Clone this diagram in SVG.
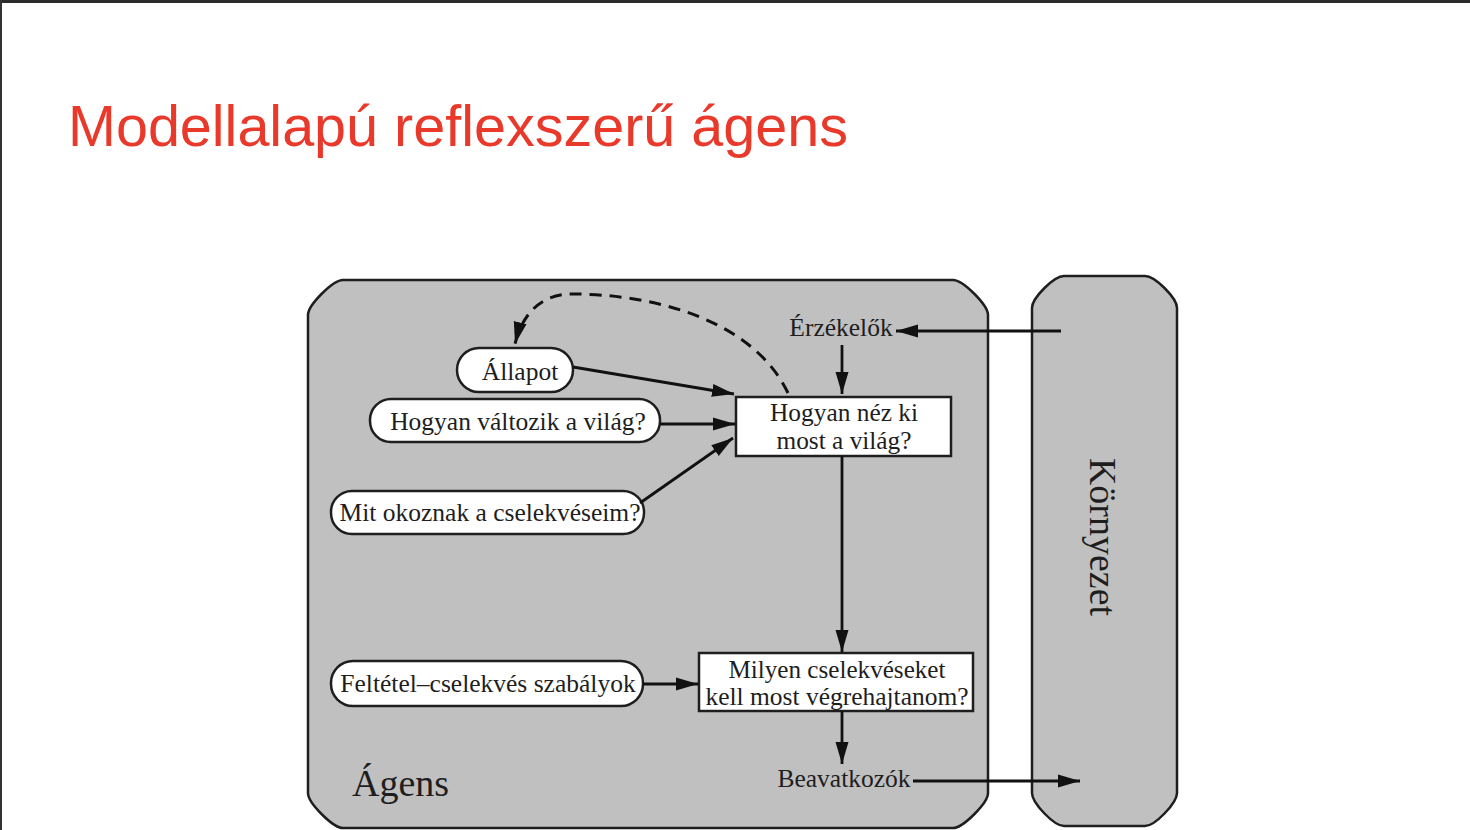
<svg xmlns="http://www.w3.org/2000/svg" width="1470" height="830" viewBox="0 0 1470 830">
<defs>
<style>
.box{fill:#c0c0c0;stroke:#1e1e1e;stroke-width:2.5}
.node{fill:#ffffff;stroke:#1e1e1e;stroke-width:2.5}
.t{font-family:"Liberation Serif","Times New Roman",serif;font-size:25.5px;fill:#1e1e1e;text-anchor:middle}
.t2{font-family:"Liberation Serif","Times New Roman",serif;font-size:24.5px;fill:#1e1e1e;text-anchor:middle}
.big{font-family:"Liberation Serif","Times New Roman",serif;font-size:38px;fill:#1e1e1e}
.edge{fill:none;stroke:#111;stroke-width:2.8;marker-end:url(#ah)}
.dash{stroke-dasharray:12 8;stroke-width:3}
</style>
<marker id="ah" markerUnits="userSpaceOnUse" markerWidth="23" markerHeight="14" refX="22" refY="7" orient="auto">
<path d="M0,0.5 L22,7 L0,13.5 z" fill="#111"/>
</marker>
</defs>
<rect x="0" y="0" width="1470" height="830" fill="#ffffff"/>
<rect x="0" y="0" width="1470" height="3" fill="#2b2b2b"/>
<rect x="0" y="0" width="2" height="830" fill="#333333"/>
<text x="68" y="146" font-family="'Liberation Sans',Arial,sans-serif" font-size="57.5" fill="#e8392b">Modellalapú reflexszerű ágens</text>

<g id="agent">
<path class="box" d="M343,280 L953,280 C963,280 988,305 988,315 L988,793 C988,803 963,828 953,828 L343,828 C333,828 308,803 308,793 L308,315 C308,305 333,280 343,280 Z"/>
<text class="big" x="352" y="796">Ágens</text>
</g>
<g id="environment">
<path class="box" d="M1064,276 L1145,276 C1155,276 1177,298 1177,308 L1177,793 C1177,803 1155,826 1145,826 L1064,826 C1054,826 1032,803 1032,793 L1032,308 C1032,298 1054,276 1064,276 Z"/>
<text class="big" text-anchor="middle" transform="translate(1090,537) rotate(90)">Környezet</text>
</g>
<g id="sensors"><text class="t" x="841" y="336">Érzékelők</text></g>
<g id="actuators"><text class="t" x="844" y="787">Beavatkozók</text></g>
<g id="state">
<rect class="node" x="457" y="348" width="116" height="44" rx="22" ry="22"/>
<text class="t" x="520" y="380">Állapot</text>
</g>
<g id="how-world-evolves">
<rect class="node" x="370" y="399" width="290" height="43" rx="21" ry="21"/>
<text class="t" x="518" y="430">Hogyan változik a világ?</text>
</g>
<g id="what-actions-do">
<rect class="node" x="331" y="491" width="313" height="43" rx="21" ry="21"/>
<text class="t" x="490" y="521">Mit okoznak a cselekvéseim?</text>
</g>
<g id="rules">
<rect class="node" x="331" y="661" width="312" height="45" rx="22" ry="22"/>
<text class="t" x="488" y="692">Feltétel–cselekvés szabályok</text>
</g>
<g id="world-now">
<rect class="node" x="736" y="397" width="215" height="59"/>
<text class="t2" x="844" y="421" textLength="148" lengthAdjust="spacingAndGlyphs">Hogyan néz ki</text>
<text class="t2" x="844" y="448.5" textLength="135" lengthAdjust="spacingAndGlyphs">most a világ?</text>
</g>
<g id="action-now">
<rect class="node" x="699" y="653" width="274" height="58"/>
<text class="t2" x="837" y="677.5" textLength="217" lengthAdjust="spacingAndGlyphs">Milyen cselekvéseket</text>
<text class="t2" x="837" y="705" textLength="263" lengthAdjust="spacingAndGlyphs">kell most végrehajtanom?</text>
</g>

<g id="connectors">
<line class="edge" x1="1061" y1="331" x2="896" y2="331"/>
<line class="edge" x1="842" y1="345" x2="842" y2="394"/>
<line class="edge" x1="573" y1="367" x2="734" y2="394"/>
<line class="edge" x1="660" y1="424" x2="735" y2="424"/>
<line class="edge" x1="640" y1="503" x2="733" y2="438"/>
<line class="edge" x1="842" y1="456" x2="842" y2="652"/>
<line class="edge" x1="643" y1="684" x2="698" y2="684"/>
<line class="edge" x1="842" y1="711" x2="842" y2="764"/>
<line class="edge" x1="913" y1="781" x2="1080" y2="781"/>
<path class="edge dash" d="M788,393 C752,318 650,294 572,294 C540,294 522,315 515,344"/>
</g>
</svg>
